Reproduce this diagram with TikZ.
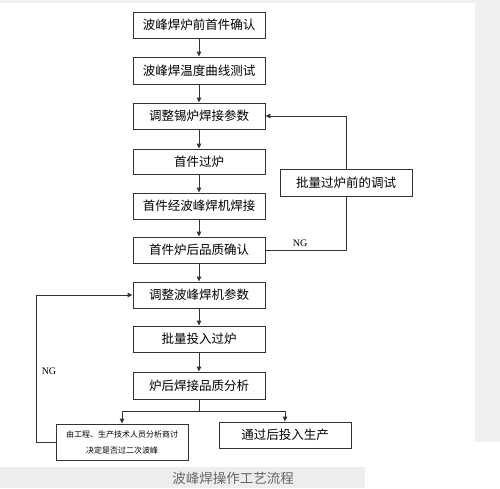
\documentclass[tikz,border=0pt]{standalone}
\usepackage{fontspec}
\setmainfont{Liberation Serif}
\newfontfamily\cjk{Noto Sans CJK SC}
\usetikzlibrary{arrows.meta}
\begin{document}
\begin{tikzpicture}[x=1pt,y=-1pt,
  box/.style={draw=black!80, line width=0.9pt, minimum width=132pt, minimum height=26pt, inner sep=0pt, font=\cjk\fontsize{12.5}{14}\selectfont},
  link/.style={draw=black!80, line width=0.9pt},
  arr/.style={link, -{Triangle[length=5pt,width=4.5pt]}},
  ng/.style={font=\fontsize{10}{12}\selectfont}]
\useasboundingbox (0,0) rectangle (500,488);
\fill[black!6] (475,0) rectangle (500,442);
\fill[black!6] (0,0) rectangle (500,3);
\fill[black!7] (0,467) rectangle (365,488);
\node[box] (b1) at (199,25) {波峰焊炉前首件确认};
\node[box, minimum height=27pt] (b2) at (199,70.5) {波峰焊温度曲线测试};
\node[box] (b3) at (199,116) {调整锡炉焊接参数};
\node[box, minimum height=25pt] (b4) at (199,161.5) {首件过炉};
\node[box] (b5) at (199,206) {首件经波峰焊机焊接};
\node[box] (b6) at (199,250) {首件炉后品质确认};
\node[box] (b7) at (199,295) {调整波峰焊机参数};
\node[box] (b8) at (199,339) {批量投入过炉};
\node[box, minimum height=27pt] (b9) at (199,385.5) {炉后焊接品质分析};
\node[box, minimum height=27pt] (side) at (346,182.5) {批量过炉前的调试};
\node[box, minimum height=36pt, align=center, font=\cjk\fontsize{8}{16}\selectfont] (b10) at (122,442) {由工程、生产技术人员分析商讨\\决定是否过二次波峰};
\node[box] (b11) at (285,435) {通过后投入生产};
\draw[arr] (b1) -- (b2);
\draw[arr] (b2) -- (b3);
\draw[arr] (b3) -- (b4);
\draw[arr] (b4) -- (b5);
\draw[arr] (b5) -- (b6);
\draw[arr] (b6) -- (b7);
\draw[arr] (b7) -- (b8);
\draw[arr] (b8) -- (b9);
\draw[link] (b6.east) -- (b6.east -| side.south) -- (side.south);
\draw[arr] (side.north) |- (b3.east);
\node[ng] (ng1) at (300,243) {NG};
\draw[link] (b9.south) -- (199,411) coordinate (split);
\draw[arr] (split) -| (b10.north);
\draw[arr] (split) -| (b11.north);
\coordinate (lc) at (36,442);
\draw[arr] (b10.west) -- (lc) |- (b7.west);
\node[ng] (ng2) at (49,371) {NG};
\node[text=black!60, font=\cjk\fontsize{13.5}{16}\selectfont] (cap) at (233,478) {波峰焊操作工艺流程};
\end{tikzpicture}
\end{document}
